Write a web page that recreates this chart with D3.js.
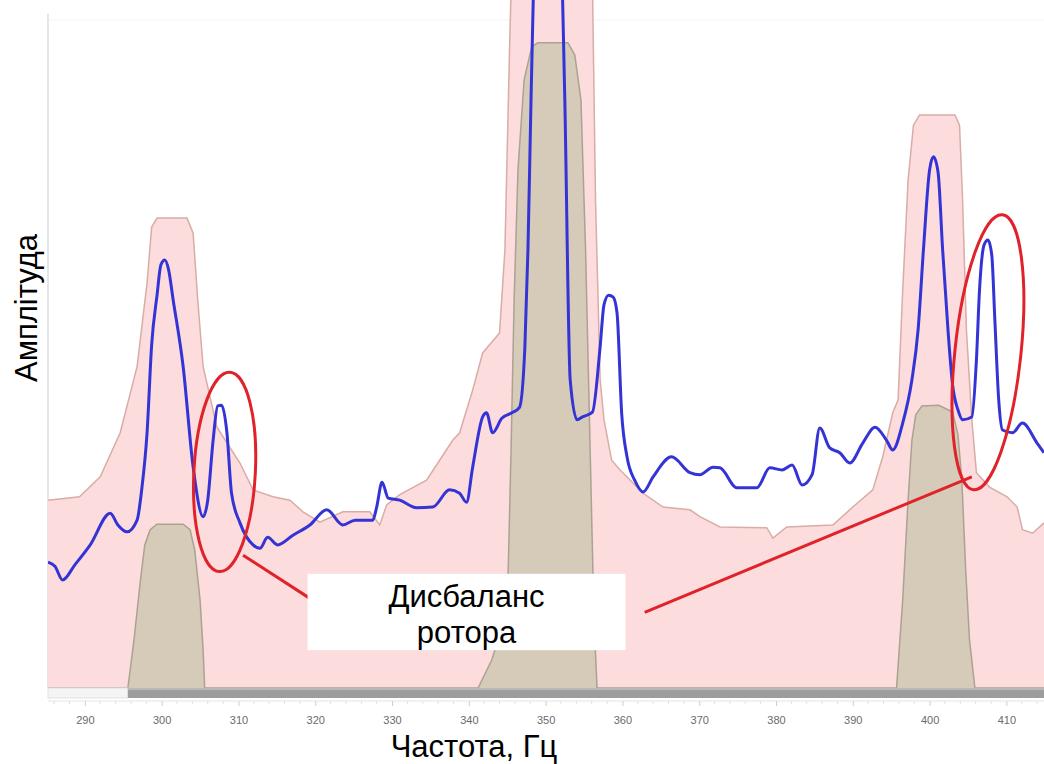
<!DOCTYPE html>
<html>
<head>
<meta charset="utf-8">
<script src="https://cdn.jsdelivr.net/npm/d3@7"></script>
<style>
  body { margin: 0; background: #fff; }
  svg { display: block; font-family: "Liberation Sans", Arial, sans-serif; }
</style>
</head>
<body>
<div id="chart"></div>
<script>
// frequency axis labels (Hz)
const freqTicks = [290, 300, 310, 320, 330, 340, 350, 360, 370, 380, 390, 400, 410];

// measured spectrum (blue)
const spectrumFreq = [285.2, 286.1, 287.1, 288.7, 290.7, 293.3, 294.3, 295.5, 296.8, 297.4, 298.1, 298.7, 299.4, 299.9, 300.4, 300.9, 301.5, 302.8, 304.1, 305.4, 306.0, 306.7, 307.3, 307.8, 308.5, 309.1, 310.2, 311.9, 312.8, 313.8, 315.1, 317.1, 319.3, 321.5, 323.6, 325.2, 327.5, 328.0, 328.7, 329.5, 331.0, 333.2, 335.3, 337.5, 338.8, 339.7, 340.5, 341.8, 342.3, 343.1, 344.3, 345.6, 346.6, 347.3, 347.7, 348.1, 350.3, 352.5, 353.2, 354.1, 354.8, 356.1, 357.1, 357.6, 358.2, 358.8, 359.3, 359.9, 360.6, 361.6, 362.7, 364.0, 366.4, 368.8, 370.1, 371.8, 372.7, 374.9, 377.5, 379.2, 380.8, 382.1, 383.4, 384.7, 385.7, 387.0, 388.3, 389.6, 391.3, 392.9, 394.4, 395.2, 396.5, 397.7, 398.5, 399.2, 400.0, 400.5, 401.1, 401.7, 402.4, 403.0, 403.7, 404.3, 405.5, 406.1, 406.5, 407.1, 407.6, 408.1, 408.5, 409.0, 409.5, 410.8, 412.1, 414.0, 414.9];
const spectrumAmp = [18.3, 17.7, 15.7, 17.9, 20.8, 25.4, 23.7, 22.7, 24.4, 28.8, 37.1, 49.9, 57.1, 61.5, 62.2, 60.8, 56.4, 46.7, 32.1, 24.9, 27.3, 36.0, 41.0, 41.1, 37.1, 28.3, 24.0, 20.8, 20.3, 21.9, 20.8, 22.2, 23.7, 25.9, 23.7, 24.4, 24.4, 26.3, 29.9, 27.6, 27.3, 26.2, 26.3, 28.8, 28.3, 27.0, 32.1, 39.4, 40.0, 37.1, 39.2, 40.0, 40.8, 49.6, 63.7, 85.5, 158.1, 85.5, 44.8, 39.0, 39.4, 40.1, 49.6, 55.7, 57.1, 56.8, 54.5, 40.0, 33.6, 30.2, 28.5, 30.7, 33.6, 31.3, 31.0, 32.1, 32.0, 29.1, 29.1, 32.0, 31.7, 32.4, 29.5, 31.0, 37.8, 34.9, 34.2, 32.7, 35.6, 37.9, 36.0, 34.6, 38.5, 44.8, 52.0, 63.7, 75.3, 77.2, 75.0, 63.7, 52.0, 44.0, 40.4, 39.0, 39.4, 47.7, 57.8, 64.4, 65.1, 62.9, 53.5, 41.9, 37.5, 37.1, 38.5, 35.6, 34.2];

// upper alarm envelope (pink)
const highFreq = [285.2, 289.3, 292.0, 294.6, 296.8, 298.1, 298.7, 299.4, 303.3, 304.1, 304.7, 305.4, 307.2, 310.2, 311.9, 314.5, 316.7, 318.4, 320.6, 323.6, 327.1, 328.4, 329.3, 331.0, 334.5, 336.2, 337.9, 338.8, 340.5, 341.8, 344.0, 344.7, 345.3, 345.7, 356.0, 356.5, 357.1, 357.6, 358.6, 359.7, 362.7, 365.3, 368.8, 370.1, 372.7, 378.8, 379.6, 381.4, 387.4, 390.0, 392.6, 393.9, 395.2, 395.9, 396.5, 397.2, 397.9, 398.7, 403.3, 403.9, 404.3, 404.8, 405.5, 406.1, 407.8, 410.1, 411.4, 412.1, 413.4, 414.9];
const highAmp = [27.3, 27.8, 30.7, 37.1, 46.7, 58.9, 67.0, 68.3, 68.3, 66.1, 56.4, 46.7, 37.9, 32.7, 28.8, 27.8, 27.3, 25.6, 24.1, 25.6, 25.6, 23.7, 26.6, 28.1, 30.2, 33.1, 36.0, 37.1, 43.3, 48.7, 51.6, 63.7, 92.7, 110, 110, 70.9, 44.8, 39.0, 33.1, 31.7, 28.3, 26.3, 25.9, 24.9, 23.4, 23.3, 21.8, 23.4, 23.7, 26.3, 28.8, 33.6, 40.0, 41.9, 57.8, 73.8, 81.8, 83.3, 83.3, 81.8, 70.9, 52.0, 39.0, 31.3, 29.2, 27.8, 26.3, 23.0, 22.5, 24.0];

// lower band (tan)
const lowFreq = [285.2, 295.6, 296.4, 297.2, 297.8, 298.5, 299.4, 302.8, 303.7, 304.3, 305.0, 305.4, 305.6, 341.2, 343.0, 344.4, 345.1, 345.5, 345.9, 346.4, 347.2, 348.2, 349.0, 352.9, 353.8, 354.6, 355.2, 355.8, 356.3, 356.7, 395.7, 396.5, 397.2, 397.7, 398.2, 399.0, 401.2, 403.0, 403.7, 404.2, 404.7, 405.2, 405.9, 414.9];
const lowAmp = [0, 0, 7.0, 15.3, 20.8, 23.0, 23.8, 23.8, 23.0, 20.1, 12.8, 5.5, 0, 0, 4.1, 9.2, 15.7, 34.6, 56.4, 75.3, 88.4, 93.2, 93.8, 93.8, 92.0, 85.5, 63.7, 34.6, 9.9, 0, 0, 12.8, 27.3, 36.0, 39.7, 41.0, 41.1, 40.1, 36.8, 30.2, 17.2, 7.0, 0, 0];

const width = 1044, height = 764;
const plot = { left: 48, right: 1044, top: 0, bottom: 688 };

const svg = d3.select("#chart").append("svg")
    .attr("width", width)
    .attr("height", height);

const x = d3.scaleLinear().domain([285.2, 414.9]).range([plot.left, plot.right]);
const y = d3.scaleLinear().domain([0, 100]).range([plot.bottom, plot.top]);

svg.append("defs").append("clipPath").attr("id", "clip")
  .append("rect")
    .attr("x", plot.left).attr("y", plot.top)
    .attr("width", plot.right - plot.left).attr("height", plot.bottom - plot.top);

const zip = (fs, as) => fs.map((f, i) => ({ f, a: as[i] }));
const high = zip(highFreq, highAmp);
const low = zip(lowFreq, lowAmp);
const spectrum = zip(spectrumFreq, spectrumAmp);

// faint frame
svg.append("line")
    .attr("x1", plot.left).attr("x2", plot.right)
    .attr("y1", 20).attr("y2", 20)
    .attr("stroke", "#f3f3f3");
svg.append("line")
    .attr("x1", plot.left).attr("x2", plot.left)
    .attr("y1", 14).attr("y2", plot.bottom)
    .attr("stroke", "#e6e6e6").attr("stroke-width", 2);

const g = svg.append("g").attr("clip-path", "url(#clip)");

g.append("path")
    .datum(high)
    .attr("fill", "#fcdcdc")
    .attr("d", d3.area().x(d => x(d.f)).y0(y(0)).y1(d => y(d.a)));
g.append("path")
    .datum(high)
    .attr("fill", "none")
    .attr("stroke", "#d9aca6")
    .attr("stroke-width", 1.5)
    .attr("d", d3.line().x(d => x(d.f)).y(d => y(d.a)));

g.append("path")
    .datum(low)
    .attr("fill", "#d6cbb8")
    .attr("d", d3.area().x(d => x(d.f)).y0(y(0)).y1(d => y(d.a)));
g.append("path")
    .datum(low)
    .attr("fill", "none")
    .attr("stroke", "#aaa293")
    .attr("stroke-width", 1.5)
    .attr("d", d3.line().x(d => x(d.f)).y(d => y(d.a)));

g.append("path")
    .datum(spectrum)
    .attr("fill", "none")
    .attr("stroke", "#3434d6")
    .attr("stroke-width", 3)
    .attr("stroke-linejoin", "round")
    .attr("d", d3.line().curve(d3.curveMonotoneX).x(d => x(d.f)).y(d => y(d.a)));

// scrollbar under the plot
svg.append("rect")
    .attr("x", plot.left).attr("y", 688)
    .attr("width", x(295.6) - plot.left).attr("height", 10)
    .attr("fill", "#f4f4f4").attr("stroke", "#e2e2e2");
svg.append("rect")
    .attr("x", x(295.6)).attr("y", 688)
    .attr("width", plot.right - x(295.6)).attr("height", 10)
    .attr("fill", "#9d9d9d");
svg.append("rect")
    .attr("x", x(295.6)).attr("y", 688)
    .attr("width", plot.right - x(295.6)).attr("height", 2)
    .attr("fill", "#b8b8b8");
svg.append("line")
    .attr("x1", plot.left).attr("x2", plot.right)
    .attr("y1", 701).attr("y2", 701)
    .attr("stroke", "#e4e4e4");

// axis
const axis = d3.axisBottom(x)
    .tickValues(freqTicks)
    .tickSize(5)
    .tickPadding(10)
    .tickFormat(d3.format("d"));
const ax = svg.append("g")
    .attr("transform", "translate(0,701)")
    .call(axis);
ax.select(".domain").remove();
ax.selectAll(".tick line").attr("stroke", "#cfcfcf");
ax.selectAll(".tick text")
    .attr("fill", "#6a6a6a")
    .style("font-size", "11px")
    .style("font-family", "'Liberation Sans', Arial, sans-serif");

const minor = d3.range(286, 415, 2).filter(v => v % 10 !== 0);
svg.append("g").selectAll("line")
  .data(minor)
  .join("line")
    .attr("x1", d => x(d)).attr("x2", d => x(d))
    .attr("y1", 701).attr("y2", 704)
    .attr("stroke", "#e0e0e0");

// axis titles
svg.append("text")
    .attr("x", 474).attr("y", 757)
    .attr("text-anchor", "middle")
    .style("font-size", "31px")
    .text("Частота, Гц");
svg.append("text")
    .attr("transform", "translate(37,308) rotate(-90)")
    .attr("text-anchor", "middle")
    .style("font-size", "31px")
    .text("Амплітуда");

// annotation: rotor unbalance sidebands
const ellipses = [
  { f: 308.2, a: 31.4, rf: 4.0, ra: 14.5, rot: 3 },
  { f: 407.6, a: 48.8, rf: 4.3, ra: 20.1, rot: 6 }
];
const pxPerHz = x(1) - x(0);
const pxPerAmp = y(0) - y(1);
svg.selectAll(".ann")
  .data(ellipses)
  .join("ellipse")
    .attr("class", "ann")
    .attr("cx", 0).attr("cy", 0)
    .attr("rx", d => d.rf * pxPerHz)
    .attr("ry", d => d.ra * pxPerAmp)
    .attr("transform", d => `translate(${x(d.f)},${y(d.a)}) rotate(${d.rot})`)
    .attr("fill", "none")
    .attr("stroke", "#e0222b")
    .attr("stroke-width", 3);

const connectors = [
  { f1: 310.6, a1: 19.3, f2: 319.2, a2: 13.1 },
  { f1: 405.5, a1: 30.7, f2: 362.9, a2: 11.0 }
];
svg.selectAll(".conn")
  .data(connectors)
  .join("line")
    .attr("class", "conn")
    .attr("x1", d => x(d.f1)).attr("y1", d => y(d.a1))
    .attr("x2", d => x(d.f2)).attr("y2", d => y(d.a2))
    .attr("stroke", "#e0222b")
    .attr("stroke-width", 3);

const box = { f0: 319.0, f1: 360.4, a0: 5.5, a1: 16.6 };
svg.append("rect")
    .attr("x", x(box.f0)).attr("y", y(box.a1))
    .attr("width", x(box.f1) - x(box.f0))
    .attr("height", y(box.a0) - y(box.a1))
    .attr("fill", "#fff");
const boxText = svg.append("text")
    .attr("text-anchor", "middle")
    .style("font-size", "31px");
boxText.append("tspan").attr("x", x(339.7)).attr("y", 607).text("Дисбаланс");
boxText.append("tspan").attr("x", x(339.7)).attr("y", 643).text("ротора");
</script>
</body>
</html>
